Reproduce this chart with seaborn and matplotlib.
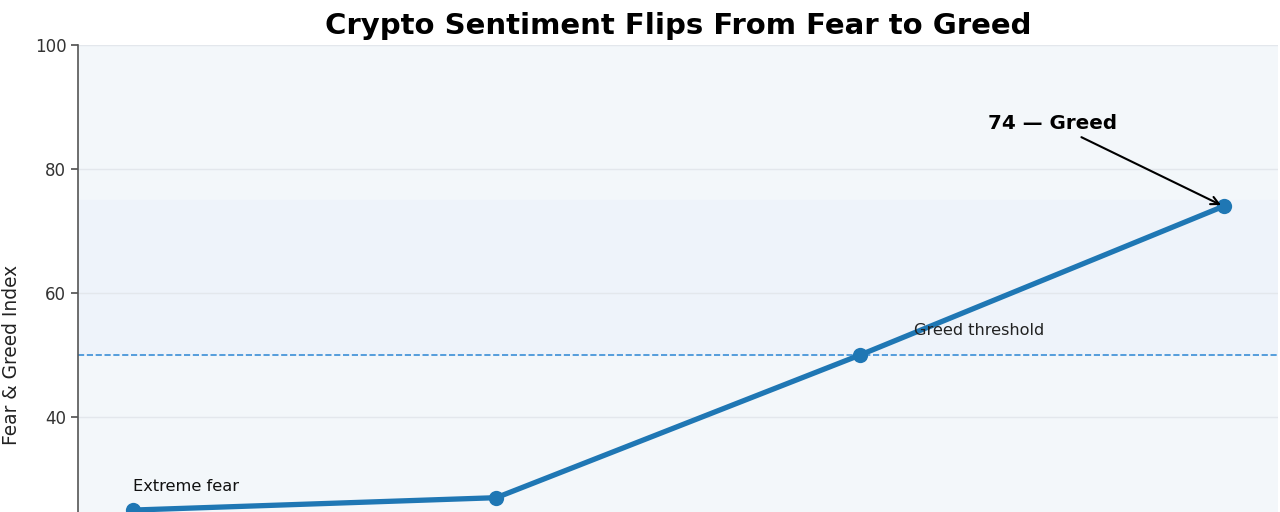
import matplotlib
matplotlib.use("Agg")
import matplotlib.pyplot as plt
import seaborn as sns
import pandas as pd

# Datos
periods = ["P1", "P2", "P3", "P4"]
index_values = [25, 27, 50, 74]
greed_threshold = 50
y_ticks = [40, 60, 80, 100]

df = pd.DataFrame({"period": periods, "index": index_values})

sns.set_theme(style="white")
plt.rcParams['font.family'] = ['DejaVu Sans']
plt.rcParams['text.color'] = '#111111'
plt.rcParams['axes.labelcolor'] = '#222222'
plt.rcParams['ytick.color'] = '#333333'

fig = plt.figure(figsize=(12.8, 5.12), dpi=100)
# el eje se extiende por debajo de la figura (recorte como en la referencia)
ax = fig.add_axes([0.061, -0.299, 0.9375, 1.211])
ax.set_facecolor("#f3f7fa")

# bandas de sentimiento
ax.axhspan(50, 75, color="#eef3fa", zorder=0)

sns.lineplot(data=df, x="period", y="index", ax=ax, color="#1f77b4",
             linewidth=3.8, marker="o", markersize=11, markeredgewidth=0,
             sort=False, zorder=3)

ax.axhline(greed_threshold, color="#3a8fd6", linestyle="--", linewidth=1.2, zorder=2)
ax.text(2.15, 53.2, "Greed threshold", fontsize=11.6, color="#222222")
ax.annotate("Extreme fear", xy=(0, index_values[0]), xytext=(0, 14),
            textcoords="offset points", fontsize=11.7, color="#111111")

ax.annotate(f"{index_values[-1]} — Greed", xy=(3, index_values[-1]),
            xytext=(2.53, 87.4), ha="center", va="center",
            fontsize=14.3, fontweight="bold", color="black",
            arrowprops=dict(arrowstyle="->", color="black", lw=1.5))

ax.set_ylim(0, 100)
ax.set_yticks(y_ticks)
ax.yaxis.grid(True, color="#e3e7ec", linewidth=1)
ax.set_axisbelow(True)
ax.tick_params(axis="y", labelsize=12, left=True, length=5, color="#555555")
ax.set_xticks(range(len(periods)))
ax.set_xticklabels([])
ax.tick_params(axis="x", bottom=False)
ax.set_xlabel("")
ax.set_ylabel("Fear & Greed Index", fontsize=13.4, labelpad=10)
ax.set_title("Crypto Sentiment Flips From Fear to Greed", fontsize=21,
             fontweight="bold", pad=8, color="black")

for s in ["top", "right", "bottom"]:
    ax.spines[s].set_visible(False)
ax.spines["left"].set_color("#555555")
ax.spines["left"].set_linewidth(1.2)

fig.savefig("out.png", dpi=100)
